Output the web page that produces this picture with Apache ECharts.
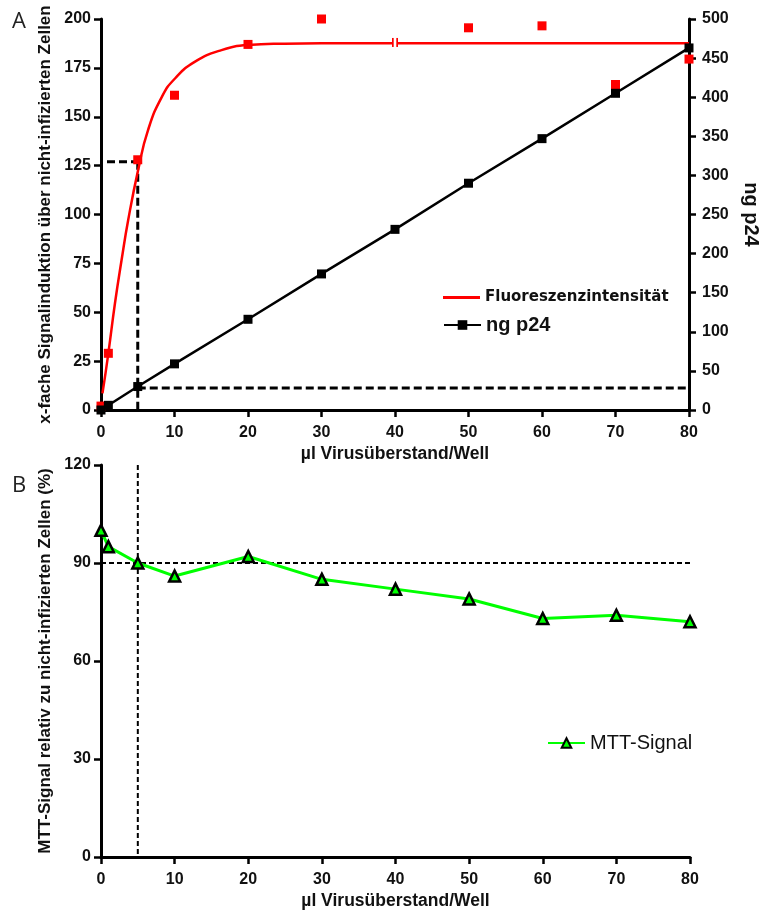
<!DOCTYPE html>
<html>
<head>
<meta charset="utf-8">
<script src="https://cdn.jsdelivr.net/npm/echarts@6/dist/echarts.min.js"></script>
<style>
  html, body { margin: 0; padding: 0; background: #fff; }
  #chart { width: 762px; height: 912px; }
</style>
</head>
<body>
<div id="chart"></div>
<script>
// ---- Panel A: fluorescence signal (left axis) and p24 content (right axis)
const volumeTicks = [0, 10, 20, 30, 40, 50, 60, 70, 80];

// measured fluorescence induction (x-fold over non-infected cells)
const fluorX = [0, 1, 5, 10, 20, 30, 40, 50, 60, 70, 80];
const fluorY = [2, 29, 128, 161, 187, 200, 188, 195.5, 196.5, 166.5, 179.5];
// index of the point drawn as an axis-break glyph
const fluorBreakIndex = 6;

// fitted saturation curve through the fluorescence values
const fitX = [0.2, 1.0, 1.9, 2.8, 3.7, 5.1, 6.4, 8.3, 10.1, 12.8, 16.4, 20.0, 25, 30, 80];
const fitY = [8.5, 29, 54.6, 76.7, 97.2, 123.6, 143.2, 160.3, 169.7, 178.2, 184.1, 186.7, 187.4, 187.6, 187.6];

// ng p24 per well
const p24X = [0, 1, 5, 10, 20, 30, 40, 50, 60, 70, 80];
const p24Y = [0, 6, 30, 59, 116, 174, 231, 290, 347, 405, 463];

// chosen working volume and the readings at that volume
const workVolume = 5;
const fluorAtWork = 127;
const p24AtWork = 28;

// ---- Panel B: MTT viability
const mttX = [0, 1, 5, 10, 20, 30, 40, 50, 60, 70, 80];
const mttY = [100, 95, 90, 86, 92, 85, 82, 79, 73, 74, 72];
const viabilityLimit = 90;

const zip = (xs, ys) => xs.map((x, i) => [x, ys[i]]);

const TICK_FONT = { fontFamily: 'Liberation Sans', fontWeight: 'bold', fontSize: 16, color: '#111' };
const NAME_FONT = { fontFamily: 'Liberation Sans', fontWeight: 'bold', fontSize: 17, color: '#111' };

function xAxisCfg(gridIndex) {
  return {
    type: 'value', gridIndex, min: 0, max: 80, interval: 10,
    name: 'µl Virusüberstand/Well', nameLocation: 'middle', nameGap: 35,
    nameTextStyle: Object.assign({}, NAME_FONT, { fontSize: 17.5 }),
    axisLine: { show: true, onZero: false, lineStyle: { color: '#000', width: 3 } },
    axisTick: { show: true, length: 7, lineStyle: { color: '#000', width: 2.5 } },
    axisLabel: Object.assign({ margin: 15 }, TICK_FONT),
    splitLine: { show: false }
  };
}

function yAxisCfg(opts) {
  return Object.assign({
    type: 'value',
    nameLocation: 'middle',
    nameTextStyle: NAME_FONT,
    axisLine: { show: true, onZero: false, lineStyle: { color: '#000', width: 3 } },
    axisTick: { show: true, length: 7, lineStyle: { color: '#000', width: 2.5 } },
    axisLabel: Object.assign({ margin: 10 }, TICK_FONT),
    splitLine: { show: false }
  }, opts);
}

function dashed(name, xi, yi, data, width, dash, offset) {
  return {
    name, type: 'line', xAxisIndex: xi, yAxisIndex: yi, data,
    symbol: 'none', silent: true, z: 1,
    lineStyle: { color: '#000', width, type: dash, dashOffset: offset || 0 }
  };
}

const chart = echarts.init(document.getElementById('chart'), null, { renderer: 'canvas' });

chart.setOption({
  animation: false,
  backgroundColor: '#fff',
  grid: [
    { left: 101, top: 19, width: 588, height: 391, outerBoundsMode: 'none', containLabel: false },
    { left: 101, top: 465, width: 589, height: 392, outerBoundsMode: 'none', containLabel: false }
  ],
  xAxis: [xAxisCfg(0), xAxisCfg(1)],
  yAxis: [
    yAxisCfg({ gridIndex: 0, min: 0, max: 200, interval: 25,
      name: 'x-fache Signalinduktion über nicht-infizierten Zellen', nameGap: 46 }),
    yAxisCfg({ gridIndex: 0, position: 'right', min: 0, max: 500, interval: 50,
      name: 'ng p24', nameGap: 52, nameRotate: -90,
      nameTextStyle: Object.assign({}, NAME_FONT, { fontSize: 20 }),
      axisLabel: Object.assign({ margin: 13 }, TICK_FONT) }),
    yAxisCfg({ gridIndex: 1, min: 0, max: 120, interval: 30,
      name: 'MTT-Signal relativ zu nicht-infizierten Zellen (%)', nameGap: 46 })
  ],
  legend: [
    {
      data: [{ name: 'Fluoreszenzintensität', icon: 'rect',
        textStyle: { fontFamily: 'DejaVu Sans', fontWeight: 'bold', fontSize: 15, color: '#111' } }],
      left: 443, top: 290, padding: 0, itemWidth: 37, itemHeight: 3, selectedMode: false
    },
    {
      data: [{ name: 'ng p24',
        textStyle: { fontFamily: 'Liberation Sans', fontWeight: 'bold', fontSize: 20, color: '#111' } }],
      left: 443, top: 315, padding: 0, itemWidth: 37, itemHeight: 12, selectedMode: false
    },
    {
      data: [{ name: 'MTT-Signal',
        textStyle: { fontFamily: 'Liberation Sans', fontSize: 20, color: '#111' } }],
      left: 547, top: 733, padding: 0, itemWidth: 37, itemHeight: 12, selectedMode: false
    }
  ],
  graphic: [
    { type: 'text', left: 12, top: 11, style: { text: 'A', font: '22px "Open Sans"', fill: '#222' } },
    { type: 'text', left: 12, top: 475, style: { text: 'B', font: '22px "Open Sans"', fill: '#222' } }
  ],
  series: [
    // Panel A guide lines at the working volume
    dashed('guideA1', 0, 0, [[0, fluorAtWork], [workVolume, fluorAtWork]], 3, [8, 4], 6),
    dashed('guideA2', 0, 0, [[workVolume, fluorAtWork], [workVolume, 0]], 3, [8, 4]),
    dashed('guideA3', 0, 1, [[workVolume, p24AtWork], [80, p24AtWork]], 3, [8, 4]),
    {
      name: 'Fluoreszenzintensität', type: 'line', xAxisIndex: 0, yAxisIndex: 0,
      data: zip(fitX, fitY), symbol: 'none', smooth: true,
      clip: false, z: 3,
      itemStyle: { color: '#ff0000' },
      lineStyle: { color: '#ff0000', width: 2.5 }
    },
    {
      name: 'Fluoreszenz Messwerte', type: 'scatter', xAxisIndex: 0, yAxisIndex: 0,
      data: fluorX.map((x, i) => i === fluorBreakIndex
        ? { value: [x, fluorY[i]], symbolSize: [6, 9] }
        : [x, fluorY[i]]),
      symbol: 'rect', symbolSize: 9, clip: false, z: 4,
      itemStyle: { color: '#ff0000', opacity: 1 }
    },
    {
      name: 'Fluoreszenz Bruch', type: 'scatter', xAxisIndex: 0, yAxisIndex: 0,
      data: [[fluorX[fluorBreakIndex], fluorY[fluorBreakIndex]]],
      symbol: 'rect', symbolSize: [2.6, 12], clip: false, z: 5, silent: true,
      itemStyle: { color: '#ffffff', opacity: 1 }
    },
    {
      name: 'ng p24', type: 'line', xAxisIndex: 0, yAxisIndex: 1,
      data: zip(p24X, p24Y), symbol: 'rect', symbolSize: 9, clip: false, z: 6,
      itemStyle: { color: '#000' },
      lineStyle: { color: '#000', width: 2.5 }
    },
    // Panel B guide lines
    dashed('guideB1', 1, 2, [[0, viabilityLimit], [80, viabilityLimit]], 2, [5, 3]),
    dashed('guideB2', 1, 2, [[workVolume, 120], [workVolume, 0]], 2, [5, 3]),
    {
      name: 'MTT-Signal', type: 'line', xAxisIndex: 1, yAxisIndex: 2,
      data: zip(mttX, mttY), symbol: 'triangle', symbolSize: 11, clip: false, z: 6,
      itemStyle: { color: '#00ff00', borderColor: '#000', borderWidth: 2.5 },
      lineStyle: { color: '#00ff00', width: 3 }
    }
  ]
});
</script>
</body>
</html>
